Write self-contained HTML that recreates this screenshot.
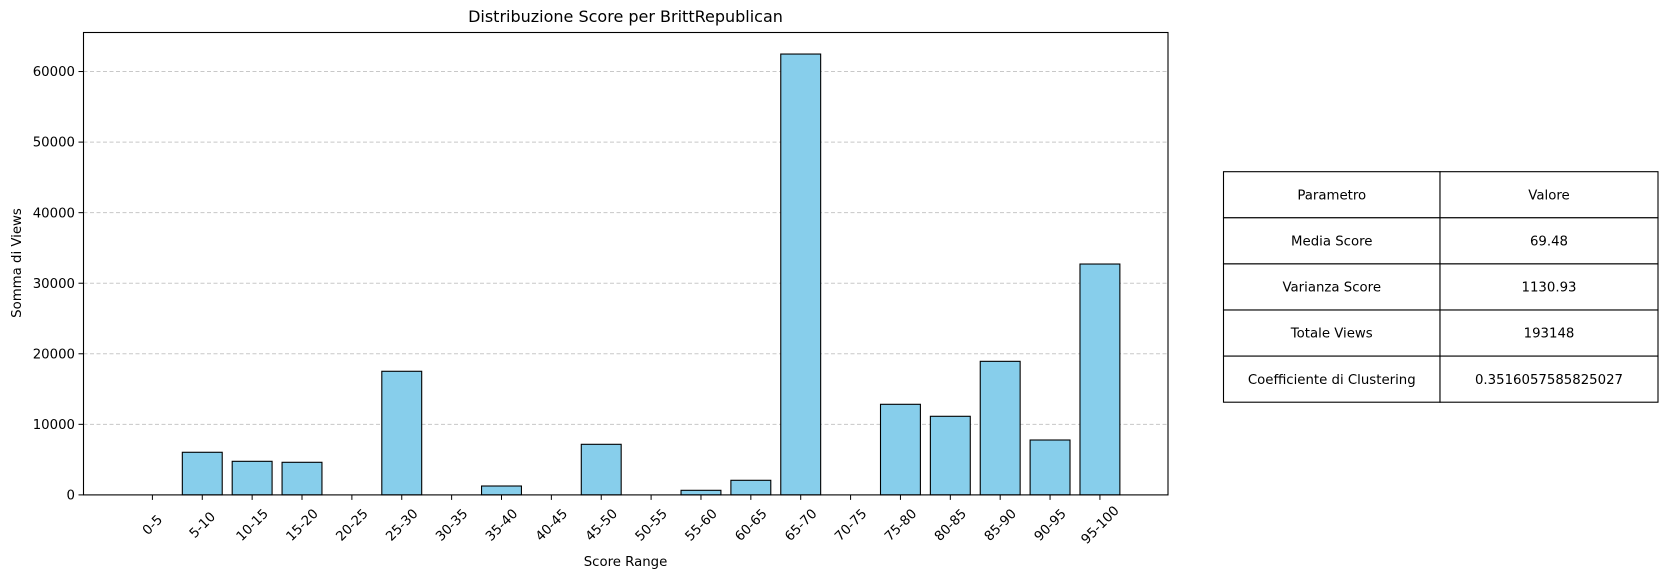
<!DOCTYPE html>
<html><head><meta charset="utf-8"><style>
body{margin:0;background:#fff;}
svg text{font-family:"DejaVu Sans","Liberation Sans",sans-serif;fill:#000;}
</style></head><body>
<svg id="chart" width="1666" height="578" viewBox="0 0 1666 578" xmlns="http://www.w3.org/2000/svg">
<text x="625.5" y="22" font-size="16" text-anchor="middle">Distribuzione Score per BrittRepublican</text>
<g id="grid"></g>
<g id="bars"></g>
<rect x="83.5" y="32.5" width="1084.5" height="462.4" fill="none" stroke="#000" stroke-width="1.1"/>
<g id="yticks"></g>
<g id="xticks"></g>
<text x="0" y="0" font-size="13.3" text-anchor="middle" transform="translate(21,263) rotate(-90)">Somma di Views</text>
<text x="625.5" y="566" font-size="13.3" text-anchor="middle">Score Range</text>
<g id="table"></g>
</svg>
<script>
const categories = ["0-5","5-10","10-15","15-20","20-25","25-30","30-35","35-40","40-45","45-50","50-55","55-60","60-65","65-70","70-75","75-80","80-85","85-90","90-95","95-100"];
const views = [0,6040,4760,4620,0,17520,0,1260,0,7170,0,650,2070,62480,0,12840,11140,18930,7780,32720];
const yTicks = [0,10000,20000,30000,40000,50000,60000];
const tableParams = ["Parametro","Media Score","Varianza Score","Totale Views","Coefficiente di Clustering"];
const tableValues = ["Valore","69.48","1130.93","193148","0.3516057585825027"];

const NS="http://www.w3.org/2000/svg";
const y0=494.9, pxPer=70.56/10000;
const yScale=v=>y0-v*pxPer;
const x0=152.4, step=49.87;
const xScale=i=>x0+i*step;
const bw=step*0.8;
function mk(tag,parent){const e=document.createElementNS(NS,tag);parent.appendChild(e);return e;}

const grid=document.getElementById('grid'), yt=document.getElementById('yticks');
yTicks.forEach(t=>{
  const y=yScale(t);
  if(t>0){const l=mk('line',grid);
    
    
    l.setAttribute('x1',83.5);l.setAttribute('x2',1168);l.setAttribute('y1',y);l.setAttribute('y2',y);
    l.setAttribute('stroke','#c8c8c8');l.setAttribute('stroke-dasharray','4,2.5');l.setAttribute('stroke-width','1');}
  const tk=mk('line',yt);
  
  
  tk.setAttribute('x1',78.5);tk.setAttribute('x2',83.5);tk.setAttribute('y1',y);tk.setAttribute('y2',y);tk.setAttribute('stroke','#000');
  const tx=mk('text',yt);
  
  
  tx.setAttribute('x',75);tx.setAttribute('y',y+4.6);tx.setAttribute('font-size','13.3');tx.setAttribute('text-anchor','end');
  tx.textContent=t;
});

const bars=document.getElementById('bars'), xt=document.getElementById('xticks');
categories.forEach((c,i)=>{
  const cx=xScale(i), v=views[i], top=yScale(v);
  const r=mk('rect',bars);
  
  
  r.setAttribute('x',cx-bw/2);r.setAttribute('y',top);r.setAttribute('width',bw);r.setAttribute('height',Math.max(0,y0-top));
  r.setAttribute('fill','#87ceeb');r.setAttribute('stroke','#000');r.setAttribute('stroke-width','1.1');
  const tk=mk('line',xt);
  
  
  tk.setAttribute('x1',cx);tk.setAttribute('x2',cx);tk.setAttribute('y1',y0);tk.setAttribute('y2',y0+5);tk.setAttribute('stroke','#000');
  const tx=mk('text',xt);
  
  
  tx.setAttribute('font-size','13.3');tx.setAttribute('text-anchor','middle');
  tx.setAttribute('transform','translate('+cx+','+(y0+30)+') rotate(-45)');
  tx.setAttribute('x',0);tx.setAttribute('y',4.5);
  tx.textContent=c;
});

const tb=document.getElementById('table');
const tL=1223.5,tR=1658,tM=1440,tT=171.7,rh=46.1;
tableParams.forEach((p,i)=>{
  const y=tT+i*rh;
  [[tL,tM,p],[tM,tR,tableValues[i]]].forEach(([a,b,s],j)=>{
    const r=mk('rect',tb);
    
    
    r.setAttribute('x',a);r.setAttribute('y',y);r.setAttribute('width',b-a);r.setAttribute('height',rh);
    r.setAttribute('fill','#fff');r.setAttribute('stroke','#000');r.setAttribute('stroke-width','1.1');
    const t=mk('text',tb);
    
    
    t.setAttribute('x',(a+b)/2);t.setAttribute('y',y+rh/2+4.6);t.setAttribute('font-size','13.3');t.setAttribute('text-anchor','middle');
    t.textContent=s;
  });
});
</script>
</body></html>
